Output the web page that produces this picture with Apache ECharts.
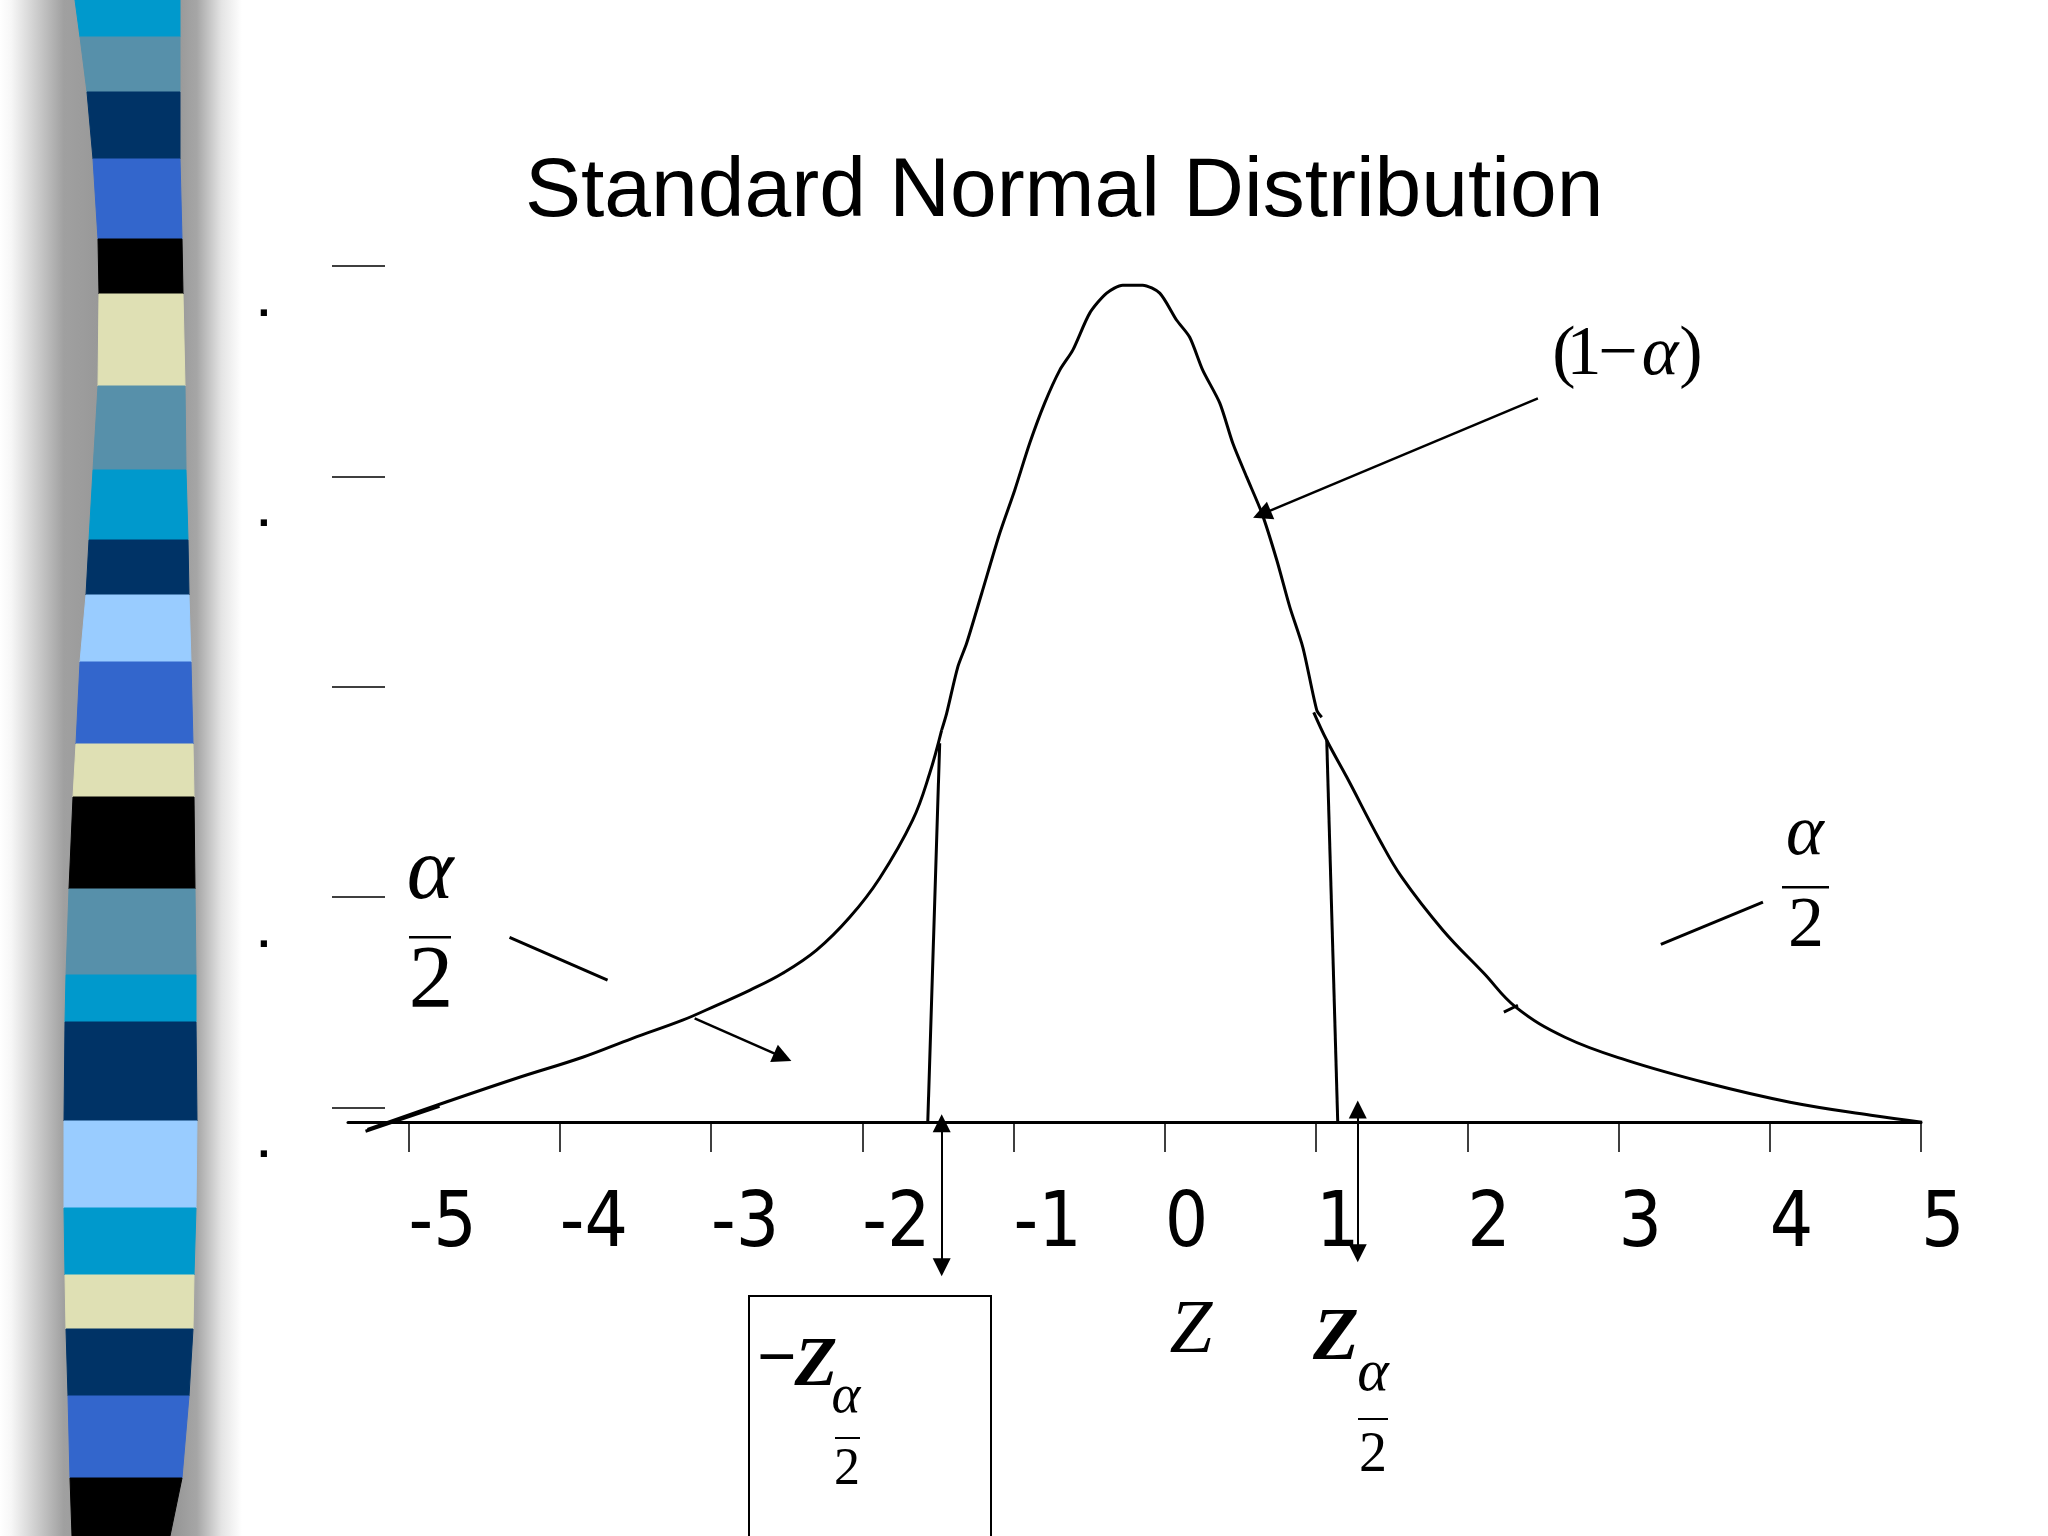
<!DOCTYPE html>
<html>
<head>
<meta charset="utf-8">
<script src="https://cdn.jsdelivr.net/npm/echarts@6/dist/echarts.min.js"></script>
<style>
html, body { margin: 0; padding: 0; background: #fff; }
#main { width: 2048px; height: 1536px; }
</style>
</head>
<body>
<div id="main"></div>
<script>
// curve: [z, density]
var leftTail = [[-5.271, -0.0105], [-4.775, 0.0019], [-4.286, 0.0138], [-3.849, 0.0238], [-3.519, 0.0328],
  [-3.188, 0.0414], [-2.963, 0.0485], [-2.745, 0.0556], [-2.526, 0.0637], [-2.302, 0.0747], [-2.083, 0.0903],
  [-1.885, 0.1089], [-1.667, 0.1365], [-1.554, 0.1588], [-1.475, 0.1793]];
var centerPart = [[-1.475, 0.1793], [-1.442, 0.1873], [-1.369, 0.2092], [-1.310, 0.2206], [-1.210, 0.2444],
  [-1.091, 0.2729], [-0.992, 0.2934], [-0.893, 0.3157], [-0.794, 0.3348], [-0.694, 0.3505], [-0.608, 0.3600],
  [-0.496, 0.3776], [-0.384, 0.3871], [-0.278, 0.3909], [-0.146, 0.3909], [-0.033, 0.3871], [0.079, 0.3742],
  [0.165, 0.3661], [0.251, 0.3505], [0.364, 0.3348], [0.450, 0.3157], [0.542, 0.2996], [0.642, 0.2825],
  [0.741, 0.2601], [0.827, 0.2378], [0.913, 0.2187], [1.005, 0.1888], [1.038, 0.1854]];
var rightTail = [[0.985, 0.1878], [1.071, 0.1745], [1.204, 0.1569], [1.422, 0.1270],
  [1.567, 0.1094], [1.839, 0.0842], [2.110, 0.0637], [2.321, 0.0476], [2.646, 0.0333], [3.056, 0.0223],
  [3.591, 0.0114], [4.134, 0.0024], [4.669, -0.0038], [5.007, -0.0071]];

// straight pieces and arrows
var cutLines = [[[-1.488, 0.1731], [-1.567, -0.0076]], [[1.071, 0.1745], [1.144, -0.0076]]];
var zArrows = [[[-1.475, -0.0076], [-1.475, -0.0761]], [[1.276, -0.0010], [1.276, -0.0694]]];
var pointers = [[[2.467, 0.3371], [0.642, 0.2820]], [[-3.108, 0.0423], [-2.526, 0.0238]]];
var strokes = [[[-4.332, 0.0808], [-3.684, 0.0604]], [[3.280, 0.0775], [3.955, 0.0975]],
  [[2.242, 0.0452], [2.335, 0.0485]], [[-5.284, -0.0114], [-4.795, 0.0005]]];

var xTicks = [-5, -4, -3, -2, -1, 0, 1, 2, 3, 4, 5];
var yTicks = [0, 0.1, 0.2, 0.3, 0.4];
var yDots = [0, 0.1, 0.3, 0.4];

// striped bar on the left of the slide
var barEdges = [0, 37, 92, 159, 239, 294, 386, 470, 540, 595, 662, 744, 797, 889, 975, 1022, 1121, 1208, 1275, 1329, 1396, 1478, 1536];
var barLeft = [75, 80, 87, 93, 98, 99, 98, 93, 89, 86, 80, 76, 73, 69, 66, 65, 64, 64, 65, 66, 68, 70, 72];
var barRight = [180, 180, 180, 180, 182, 183, 185, 186, 188, 189, 191, 193, 194, 195, 196, 196, 197, 196, 194, 193, 189, 182, 170];
var barColors = ['#0099cc', '#5790aa', '#003366', '#3366cc', '#000000', '#dfe0b4', '#5790aa', '#0099cc',
  '#003366', '#99ccff', '#3366cc', '#dfe0b4', '#000000', '#5790aa', '#0099cc', '#003366', '#99ccff',
  '#0099cc', '#dfe0b4', '#003366', '#3366cc', '#000000'];

var serif = '"Liberation Serif", "Times New Roman", serif';

function txt(x, y, s, size, o) {
  o = o || {};
  return {
    type: 'text', x: x, y: y, silent: true,
    style: {
      text: s, fill: '#000', fontSize: size, fontFamily: o.family || serif,
      fontStyle: o.italic ? 'italic' : 'normal', fontWeight: o.bold ? 'bold' : 'normal',
      align: o.align || 'center', verticalAlign: 'middle'
    }
  };
}
function bar(x, y, w, h) {
  return { type: 'rect', silent: true, shape: { x: x, y: y, width: w, height: h }, style: { fill: '#000' } };
}

var decor = [];
decor.push({
  type: 'rect', silent: true, shape: { x: 0, y: 0, width: 110, height: 1536 },
  style: { fill: new echarts.graphic.LinearGradient(0, 0, 1, 0, [
    { offset: 0, color: '#ffffff' }, { offset: 0.1, color: '#f7f7f7' },
    { offset: 0.58, color: '#a0a0a0' }, { offset: 1, color: '#969696' }]) }
});
decor.push({
  type: 'rect', silent: true, shape: { x: 160, y: 0, width: 82, height: 1536 },
  style: { fill: new echarts.graphic.LinearGradient(0, 0, 1, 0, [
    { offset: 0, color: '#8c8c8c' }, { offset: 0.45, color: '#a6a6a6' },
    { offset: 0.75, color: '#e4e4e4' }, { offset: 1, color: '#ffffff' }]) }
});
for (var i = 0; i < barColors.length; i++) {
  decor.push({
    type: 'polygon', silent: true,
    shape: { points: [[barLeft[i], barEdges[i]], [barRight[i], barEdges[i]], [barRight[i + 1], barEdges[i + 1]], [barLeft[i + 1], barEdges[i + 1]]] },
    style: { fill: barColors[i], stroke: barColors[i], lineWidth: 1 }
  });
}

// math annotations
var notes = [
  // (1 - alpha)
  txt(1564, 356, '(', 70), txt(1584, 356, '1', 70), txt(1618, 356, '\u2212', 70),
  txt(1660, 356, '\u03b1', 70, { italic: true }), txt(1691, 356, ')', 70),
  // left alpha/2
  txt(430, 875, '\u03b1', 89, { italic: true }), bar(409, 936, 42, 2.5), txt(431, 983, '2', 89),
  // right alpha/2
  txt(1805, 835, '\u03b1', 72, { italic: true }), bar(1782, 886, 47, 2.5), txt(1806, 927, '2', 72),
  // Z
  txt(1191, 1332, 'Z', 77, { italic: true }),
  // Z alpha/2
  txt(1336, 1340, 'Z', 75, { italic: true, bold: true }), txt(1373, 1374, '\u03b1', 60, { italic: true }),
  bar(1358, 1418, 30, 2), txt(1373, 1456, '2', 56),
  // boxed -Z alpha/2
  { type: 'rect', silent: true, shape: { x: 749, y: 1296, width: 242, height: 260 }, style: { fill: 'none', stroke: '#000', lineWidth: 2 } },
  txt(777, 1362, '\u2212', 70, { bold: true }), txt(816, 1367, 'Z', 70, { italic: true, bold: true }),
  txt(846, 1398, '\u03b1', 55, { italic: true }), bar(835, 1437, 25, 2), txt(847, 1470, '2', 52)
];

var chart = echarts.init(document.getElementById('main'));
chart.setOption({
  backgroundColor: '#ffffff',
  animation: false,
  title: {
    text: 'Standard Normal Distribution',
    left: 520, top: 146,
    textStyle: { fontFamily: '"Liberation Sans", Arial, sans-serif', fontSize: 84, fontWeight: 'normal', color: '#000' }
  },
  grid: { left: 348, right: 127, top: 266, bottom: 414, outerBoundsMode: 'none' },
  xAxis: {
    type: 'value', min: -5.4, max: 5,
    axisLine: { onZero: false, lineStyle: { color: '#000', width: 3 } },
    axisTick: { show: true, customValues: xTicks, length: 30, lineStyle: { color: '#000', width: 1.5 } },
    axisLabel: {
      customValues: xTicks, color: '#000', fontSize: 76, lineHeight: 76, margin: 66, align: 'left',
      fontFamily: '"Liberation Sans Narrow", "DejaVu Sans Condensed", "Liberation Sans", sans-serif'
    },
    splitLine: { show: false }
  },
  yAxis: {
    type: 'value', min: -0.007, max: 0.4, offset: -37,
    axisLine: { show: false, onZero: false },
    axisTick: { show: true, customValues: yTicks, length: 53, lineStyle: { color: '#000', width: 1.5 } },
    axisLabel: {
      customValues: yDots, formatter: function () { return '.'; }, color: '#000',
      fontSize: 44, fontWeight: 'bold', lineHeight: 44, verticalAlign: 'top', padding: [16, 0, 0, 0],
      margin: 115, align: 'right', fontFamily: '"Liberation Sans", sans-serif'
    },
    splitLine: { show: false }
  },
  series: [
    { type: 'line', data: leftTail, smooth: 0.4, showSymbol: false, clip: false, silent: true,
      lineStyle: { color: '#000', width: 3 } },
    { type: 'line', data: centerPart, smooth: 0.25, showSymbol: false, clip: false, silent: true,
      lineStyle: { color: '#000', width: 3 } },
    { type: 'line', data: rightTail, smooth: 0.4, showSymbol: false, clip: false, silent: true,
      lineStyle: { color: '#000', width: 3 } },
    { type: 'lines', coordinateSystem: 'cartesian2d', polyline: false, clip: false, silent: true,
      symbol: 'none', lineStyle: { color: '#000', width: 3, opacity: 1, curveness: 0 },
      data: cutLines.concat(strokes).map(function (c) { return { coords: c }; }) },
    { type: 'lines', coordinateSystem: 'cartesian2d', polyline: false, clip: false, silent: true,
      symbol: ['none', 'triangle'], symbolSize: 19,
      lineStyle: { color: '#000', width: 2.5, opacity: 1 }, itemStyle: { color: '#000' },
      data: pointers.map(function (c) { return { coords: c }; }) },
    { type: 'lines', coordinateSystem: 'cartesian2d', polyline: false, clip: false, silent: true,
      symbol: ['triangle', 'triangle'], symbolSize: 18,
      lineStyle: { color: '#000', width: 2, opacity: 1 }, itemStyle: { color: '#000' },
      data: zArrows.map(function (c) { return { coords: c }; }) }
  ],
  graphic: decor.concat(notes)
});
</script>
</body>
</html>
